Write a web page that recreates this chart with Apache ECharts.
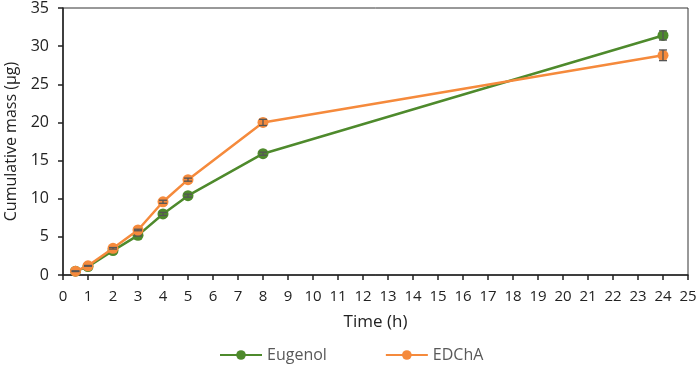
<!DOCTYPE html>
<html>
<head>
<meta charset="utf-8">
<script src="https://cdn.jsdelivr.net/npm/echarts@6/dist/echarts.min.js"></script>
<style>
  html, body { margin: 0; padding: 0; background: #fff; }
  #chart { width: 699px; height: 374px; }
</style>
</head>
<body>
<div id="chart"></div>
<script>
// 时间点 (h)
const times = [0.5, 1, 2, 3, 4, 5, 8, 24];
// 累计质量 (μg)
const eugenol = [0.5, 1.1, 3.2, 5.2, 8.0, 10.4, 15.9, 31.4];
const edcha = [0.5, 1.2, 3.5, 5.9, 9.6, 12.5, 20.0, 28.8];
// 误差棒
const eugenolErr = [0.05, 0.05, 0.1, 0.1, 0.2, 0.2, 0.2, 0.6];
const edchaErr = [0.05, 0.05, 0.1, 0.1, 0.2, 0.2, 0.4, 0.7];

const green = '#4e8a2c';
const orange = '#f58a3c';
const font = '"Open Sans", "Noto Sans", sans-serif';

function pairs(ys) {
  return times.map((t, i) => [t, ys[i]]);
}

function errData(ys, errs) {
  return times.map((t, i) => [t, ys[i] - errs[i], ys[i] + errs[i]]);
}

// 误差棒绘制
function renderErr(params, api) {
  const x = api.value(0);
  const lo = api.coord([x, api.value(1)]);
  const hi = api.coord([x, api.value(2)]);
  const w = 4;
  const style = { stroke: '#555', lineWidth: 1.3 };
  return {
    type: 'group',
    children: [
      { type: 'line', shape: { x1: lo[0], y1: lo[1], x2: hi[0], y2: hi[1] }, style: style },
      { type: 'line', shape: { x1: lo[0] - w, y1: lo[1], x2: lo[0] + w, y2: lo[1] }, style: style },
      { type: 'line', shape: { x1: hi[0] - w, y1: hi[1], x2: hi[0] + w, y2: hi[1] }, style: style }
    ]
  };
}

const chart = echarts.init(document.getElementById('chart'));

const option = {
  animation: false,
  textStyle: { fontFamily: font },
  grid: {
    left: 63, right: 11, top: 8, bottom: 99,
    outerBoundsMode: 'none',
    containLabel: false,
    show: true, borderColor: '#333', borderWidth: 1
  },
  legend: {
    bottom: 6,
    left: 214,
    itemWidth: 42,
    itemHeight: 12,
    itemGap: 58,
    textStyle: { fontSize: 16, color: '#595959', fontFamily: font },
    data: ['Eugenol', 'EDChA']
  },
  xAxis: {
    type: 'value',
    min: 0, max: 25, interval: 1,
    name: 'Time (h)',
    nameLocation: 'middle',
    nameGap: 39,
    nameTextStyle: { fontSize: 17, color: '#222', fontFamily: font },
    axisLine: { onZero: false, lineStyle: { color: '#222', width: 1.5 } },
    axisTick: { show: true, inside: false, length: 5, lineStyle: { color: '#222', width: 1.5 } },
    axisLabel: { fontSize: 15, color: '#222', margin: 14 },
    splitLine: { show: false }
  },
  yAxis: {
    type: 'value',
    min: 0, max: 35, interval: 5,
    name: 'Cumulative mass (μg)',
    nameLocation: 'middle',
    nameGap: 37,
    nameTextStyle: { fontSize: 16, color: '#222', fontFamily: font },
    axisLine: { show: true, lineStyle: { color: '#222', width: 1.5 } },
    axisTick: { show: true, inside: false, length: 5, lineStyle: { color: '#222', width: 1.5 } },
    axisLabel: { fontSize: 16, color: '#222', margin: 14 },
    splitLine: { show: false }
  },
  series: [
    {
      name: 'Eugenol',
      type: 'line',
      data: pairs(eugenol),
      symbol: 'circle',
      symbolSize: 11,
      lineStyle: { color: green, width: 2.5 },
      itemStyle: { color: green },
      z: 2
    },
    {
      type: 'custom',
      data: errData(eugenol, eugenolErr),
      renderItem: renderErr,
      silent: true,
      z: 3
    },
    {
      name: 'EDChA',
      type: 'line',
      data: pairs(edcha),
      symbol: 'circle',
      symbolSize: 11,
      lineStyle: { color: orange, width: 2.5 },
      itemStyle: { color: orange },
      z: 4
    },
    {
      type: 'custom',
      data: errData(edcha, edchaErr),
      renderItem: renderErr,
      silent: true,
      z: 5
    }
  ]
};

chart.setOption(option);
</script>
</body>
</html>
